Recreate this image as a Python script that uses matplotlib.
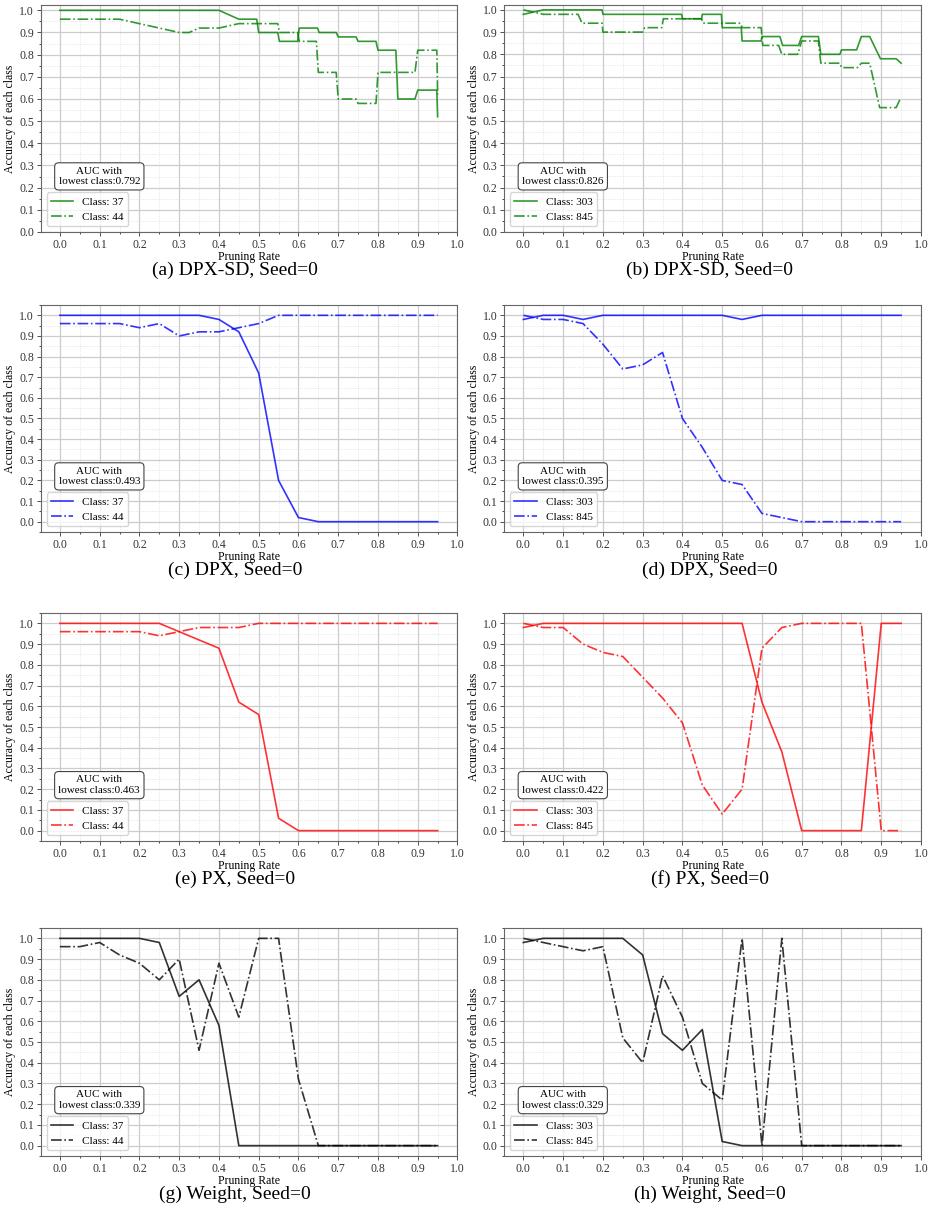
import matplotlib
matplotlib.use('Agg')
import matplotlib.pyplot as plt
from matplotlib.ticker import MultipleLocator

plt.rcParams['font.family'] = ['Liberation Serif', 'DejaVu Serif']

# pruning rates used by the DPX / PX / Weight runs
rates = [0.0, 0.05, 0.1, 0.15, 0.2, 0.25, 0.3, 0.35, 0.4, 0.45,
         0.5, 0.55, 0.6, 0.65, 0.7, 0.75, 0.8, 0.85, 0.9, 0.95]

# (a) DPX-SD, classes 37 / 44 (step-like curves, own x points)
sd_a37_x = [0.0, 0.4, 0.45, 0.495, 0.5, 0.548, 0.552, 0.598, 0.602, 0.648, 0.652,
            0.695, 0.7, 0.745, 0.75, 0.795, 0.8, 0.845, 0.85, 0.893, 0.9, 0.948, 0.95]
sd_a37_y = [1.0, 1.0, 0.96, 0.96, 0.9, 0.9, 0.86, 0.86, 0.92, 0.92, 0.9,
            0.9, 0.88, 0.88, 0.86, 0.86, 0.82, 0.82, 0.6, 0.6, 0.64, 0.64, 0.52]
sd_a44_x = [0.0, 0.15, 0.3, 0.325, 0.35, 0.4, 0.45, 0.548, 0.552, 0.598, 0.602,
            0.645, 0.65, 0.695, 0.7, 0.745, 0.75, 0.795, 0.8, 0.893, 0.9, 0.948, 0.95]
sd_a44_y = [0.96, 0.96, 0.9, 0.9, 0.92, 0.92, 0.94, 0.94, 0.9, 0.9, 0.86,
            0.86, 0.72, 0.72, 0.6, 0.6, 0.58, 0.58, 0.72, 0.72, 0.82, 0.82, 0.62]

# (b) DPX-SD, classes 303 / 845
sd_b303_x = [0.0, 0.05, 0.198, 0.2, 0.398, 0.4, 0.448, 0.45, 0.498, 0.5, 0.548, 0.55,
             0.598, 0.6, 0.645, 0.652, 0.692, 0.7, 0.742, 0.748, 0.796, 0.8, 0.838,
             0.85, 0.871, 0.898, 0.9375, 0.95]
sd_b303_y = [0.98, 1.0, 1.0, 0.98, 0.98, 0.96, 0.96, 0.98, 0.98, 0.92, 0.92, 0.86,
             0.86, 0.88, 0.88, 0.84, 0.84, 0.88, 0.88, 0.8, 0.8, 0.82, 0.82,
             0.88, 0.88, 0.78, 0.78, 0.76]
sd_b845_x = [0.0, 0.05, 0.1375, 0.1475, 0.198, 0.2, 0.3, 0.305, 0.348, 0.352, 0.448,
             0.452, 0.546, 0.55, 0.598, 0.602, 0.642, 0.65, 0.69, 0.7, 0.742, 0.748,
             0.796, 0.8, 0.84, 0.85, 0.871, 0.896, 0.9375, 0.948]
sd_b845_y = [1.0, 0.98, 0.98, 0.94, 0.94, 0.9, 0.9, 0.92, 0.92, 0.96, 0.96,
             0.94, 0.94, 0.92, 0.92, 0.84, 0.84, 0.8, 0.8, 0.86, 0.86, 0.76,
             0.76, 0.74, 0.74, 0.76, 0.76, 0.56, 0.56, 0.6]

# (c) / (d) DPX
dpx_c37 = [1.0, 1.0, 1.0, 1.0, 1.0, 1.0, 1.0, 1.0, 0.98, 0.92,
           0.72, 0.2, 0.02, 0.0, 0.0, 0.0, 0.0, 0.0, 0.0, 0.0]
dpx_c44 = [0.96, 0.96, 0.96, 0.96, 0.94, 0.96, 0.9, 0.92, 0.92, 0.94,
           0.96, 1.0, 1.0, 1.0, 1.0, 1.0, 1.0, 1.0, 1.0, 1.0]
dpx_d303 = [0.98, 1.0, 1.0, 0.98, 1.0, 1.0, 1.0, 1.0, 1.0, 1.0,
            1.0, 0.98, 1.0, 1.0, 1.0, 1.0, 1.0, 1.0, 1.0, 1.0]
dpx_d845 = [1.0, 0.98, 0.98, 0.96, 0.86, 0.74, 0.76, 0.82, 0.5, 0.36,
            0.2, 0.18, 0.04, 0.02, 0.0, 0.0, 0.0, 0.0, 0.0, 0.0]

# (e) / (f) PX
px_e37 = [1.0, 1.0, 1.0, 1.0, 1.0, 1.0, 0.96, 0.92, 0.88, 0.62,
          0.56, 0.06, 0.0, 0.0, 0.0, 0.0, 0.0, 0.0, 0.0, 0.0]
px_e44 = [0.96, 0.96, 0.96, 0.96, 0.96, 0.94, 0.96, 0.98, 0.98, 0.98,
          1.0, 1.0, 1.0, 1.0, 1.0, 1.0, 1.0, 1.0, 1.0, 1.0]
px_f303 = [0.98, 1.0, 1.0, 1.0, 1.0, 1.0, 1.0, 1.0, 1.0, 1.0,
           1.0, 1.0, 0.62, 0.38, 0.0, 0.0, 0.0, 0.0, 1.0, 1.0]
px_f845 = [1.0, 0.98, 0.98, 0.9, 0.86, 0.84, 0.74, 0.64, 0.52, 0.22,
           0.08, 0.2, 0.88, 0.98, 1.0, 1.0, 1.0, 1.0, 0.0, 0.0]

# (g) / (h) Weight
w_g37 = [1.0, 1.0, 1.0, 1.0, 1.0, 0.98, 0.72, 0.8, 0.58, 0.0,
         0.0, 0.0, 0.0, 0.0, 0.0, 0.0, 0.0, 0.0, 0.0, 0.0]
w_g44 = [0.96, 0.96, 0.98, 0.92, 0.88, 0.8, 0.9, 0.46, 0.88, 0.62,
         1.0, 1.0, 0.32, 0.0, 0.0, 0.0, 0.0, 0.0, 0.0, 0.0]
w_h303 = [0.98, 1.0, 1.0, 1.0, 1.0, 1.0, 0.92, 0.54, 0.46, 0.56,
          0.02, 0.0, 0.0, 0.0, 0.0, 0.0, 0.0, 0.0, 0.0, 0.0]
w_h845 = [1.0, 0.98, 0.96, 0.94, 0.96, 0.52, 0.4, 0.82, 0.62, 0.3,
          0.22, 1.0, 0.0, 1.0, 0.0, 0.0, 0.0, 0.0, 0.0, 0.0]

captions = ['(a) DPX-SD, Seed=0', '(b) DPX-SD, Seed=0', '(c) DPX, Seed=0', '(d) DPX, Seed=0',
            '(e) PX, Seed=0', '(f) PX, Seed=0', '(g) Weight, Seed=0', '(h) Weight, Seed=0']
auc_values = [0.792, 0.826, 0.493, 0.395, 0.463, 0.422, 0.339, 0.329]
colors = ['green', 'green', 'blue', 'blue', 'red', 'red', 'black', 'black']

panels = [
    ((sd_a37_x, sd_a37_y), (sd_a44_x, sd_a44_y), ('37', '44')),
    ((sd_b303_x, sd_b303_y), (sd_b845_x, sd_b845_y), ('303', '845')),
    ((rates, dpx_c37), (rates, dpx_c44), ('37', '44')),
    ((rates, dpx_d303), (rates, dpx_d845), ('303', '845')),
    ((rates, px_e37), (rates, px_e44), ('37', '44')),
    ((rates, px_f303), (rates, px_f845), ('303', '845')),
    ((rates, w_g37), (rates, w_g44), ('37', '44')),
    ((rates, w_h303), (rates, w_h845), ('303', '845')),
]

W, H = 929, 1206
fig = plt.figure(figsize=(W / 100, H / 100), dpi=100)

col_left = [41, 504.5]
col_width = 416.5
row_box = [(5, 232), (305, 532), (613, 841), (928, 1156)]
caption_x = [235, 710]

for i, (s1, s2, names) in enumerate(panels):
    row, col = divmod(i, 2)
    top, bottom = row_box[row]
    ax = fig.add_axes([col_left[col] / W, 1 - bottom / H, col_width / W, (bottom - top) / H])

    ax.plot(s1[0], s1[1], color=colors[i], alpha=0.8, lw=1.2, linestyle='-',
            label='Class: ' + names[0])
    ax.plot(s2[0], s2[1], color=colors[i], alpha=0.8, lw=1.2, linestyle='-.',
            label='Class: ' + names[1])

    ax.set_xticks([k / 10 for k in range(11)])
    ax.set_yticks([k / 10 for k in range(11)])
    ax.xaxis.set_minor_locator(MultipleLocator(0.05))
    ax.yaxis.set_minor_locator(MultipleLocator(0.05))
    ax.tick_params(labelsize=8.5, length=3, width=0.6, pad=2, colors='#333333')
    ax.tick_params(which='minor', length=1.5, width=0.5)
    ax.grid(which='major', color='#cccccc', lw=0.9)
    ax.grid(which='minor', color='#dddddd', lw=0.6, linestyle=':')
    ax.set_axisbelow(True)
    for sp in ax.spines.values():
        sp.set_color('#666666')
        sp.set_linewidth(0.8)

    ax.set_xlabel('Pruning Rate', fontsize=8.5, labelpad=0)
    ax.set_ylabel('Accuracy of each class', fontsize=8.5, labelpad=2)

    ax.legend(loc='lower left', fontsize=8)
    ax.text(0.14, 0.245, 'AUC with\nlowest class:%.3f' % auc_values[i], transform=ax.transAxes,
            ha='center', va='center', fontsize=8,
            bbox=dict(boxstyle='round,pad=0.35', fc='white', ec='#444444', lw=0.8))

    fig.text(caption_x[col] / W, 1 - (bottom + 38) / H, captions[i], fontsize=14,
             ha='center', va='center')

fig.savefig('out.png', dpi=100)
